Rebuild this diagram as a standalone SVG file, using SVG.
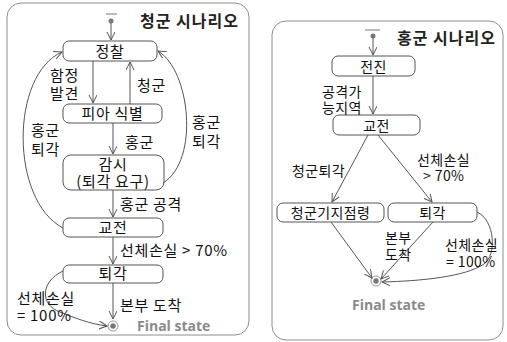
<svg xmlns="http://www.w3.org/2000/svg" width="507" height="342" viewBox="0 0 507 342">
<style>
.panel{fill:#fff;stroke:#8c8c8c;stroke-width:1}
.box{fill:#fff;stroke:#555;stroke-width:1}
.t{font-family:"Noto Sans CJK KR","Liberation Sans",sans-serif;font-size:15px;letter-spacing:0.7px;fill:#111}
.r{font-family:"Noto Sans CJK KR","Liberation Sans",sans-serif;font-size:14px;letter-spacing:0.4px;fill:#111}
.c{text-anchor:middle}
.title{font-family:"Noto Sans CJK KR","Liberation Sans",sans-serif;font-size:16px;letter-spacing:1px;font-weight:bold;fill:#222}
.fs{font-family:"Open Sans","Liberation Sans",sans-serif;font-size:14px;font-weight:bold;fill:#8a8a8a}
.e{fill:none;stroke:#555;stroke-width:1;marker-end:url(#ah)}
.dot{fill:#777}
</style>
<defs>
<marker id="ah" markerWidth="9" markerHeight="9" refX="8" refY="4" orient="auto" markerUnits="userSpaceOnUse">
<path d="M0,0 L8,4 L0,8" fill="none" stroke="#555" stroke-width="1"/>
</marker>
</defs>
<rect class="panel" x="7" y="3" width="242" height="332" rx="14"/>
<rect class="panel" x="272" y="21" width="231" height="319" rx="14"/>
<text class="title" x="140" y="27">청군 시나리오</text>
<text class="title" x="397" y="44">홍군 시나리오</text>
<g id="left-start"><line x1="106" y1="14" x2="117" y2="14" stroke="#777"/><circle class="dot" cx="111" cy="21" r="2.5"/></g>
<g id="n-jeongchal"><rect class="box" x="63" y="41" width="94" height="20" rx="6"/><text class="t c" x="110" y="57">정찰</text></g>
<g id="n-pia"><rect class="box" x="63" y="104" width="99" height="19" rx="6"/><text class="t c" x="112.5" y="119">피아 식별</text></g>
<g id="n-gamsi"><rect class="box" x="63" y="155" width="101" height="35" rx="8"/><text class="t c" x="113" y="170">감시<tspan x="113" dy="17">(퇴각 요구)</tspan></text></g>
<g id="n-gyojeon-l"><rect class="box" x="63" y="218" width="100" height="19" rx="6"/><text class="t c" x="113" y="233">교전</text></g>
<g id="n-toegak-l"><rect class="box" x="63" y="265" width="100" height="18" rx="6"/><text class="t c" x="113" y="279">퇴각</text></g>
<g id="left-final"><circle cx="113" cy="326" r="5" fill="#fff" stroke="#999"/><circle class="dot" cx="113" cy="326" r="2.7"/><text class="fs" x="137" y="331">Final state</text></g>
<g id="right-start"><line x1="365" y1="30" x2="380" y2="30" stroke="#777"/><circle class="dot" cx="373" cy="36" r="2.5"/></g>
<g id="n-jeonjin"><rect class="box" x="332" y="56" width="83" height="20" rx="6"/><text class="r c" x="373.5" y="72">전진</text></g>
<g id="n-gyojeon-r"><rect class="box" x="333" y="115" width="87" height="20" rx="6"/><text class="r c" x="376.5" y="131">교전</text></g>
<g id="n-gijijeom"><rect class="box" x="277" y="203" width="107" height="19" rx="6"/><text class="r c" x="330.5" y="218">청군기지점령</text></g>
<g id="n-toegak-r"><rect class="box" x="388" y="203" width="89" height="19" rx="6"/><text class="r c" x="432.5" y="218">퇴각</text></g>
<g id="right-final"><circle cx="376" cy="281" r="5" fill="#fff" stroke="#999"/><circle class="dot" cx="376" cy="281" r="2.7"/><text class="fs" x="352" y="310">Final state</text></g>
<g id="connectors">
<path class="e" d="M111,23 V40"/>
<path class="e" d="M93,61 V103"/>
<path class="e" d="M130,104 V62"/>
<path class="e" d="M113,123 V154"/>
<path class="e" d="M113,190 V217"/>
<path class="e" d="M113,237 V264"/>
<path class="e" d="M113,283 V319"/>
<path class="e" d="M63,228 C10,200 10,75 62,52"/>
<path class="e" d="M163,183 C200,160 190,70 158,51"/>
<path class="e" d="M63,271 C40,282 40,305 60,312 C75,318 90,324 107,326"/>
<path class="e" d="M373,38 V55"/>
<path class="e" d="M373,76 V114"/>
<path class="e" d="M368,135 L332,202"/>
<path class="e" d="M378,135 L432,202"/>
<path class="e" d="M331,222 L372,278"/>
<path class="e" d="M433,222 L381,279"/>
<path class="e" d="M477,212 C495,220 497,255 484,264 C465,277 420,281 382,282"/>
</g>
<g id="labels">
<text class="t" x="50" y="81">함정<tspan x="50" dy="18">발견</tspan></text>
<text class="t" x="137" y="91">청군</text>
<text class="t" x="125" y="148">홍군</text>
<text class="t" x="31" y="136">홍군<tspan x="31" dy="19">퇴각</tspan></text>
<text class="t" x="192" y="128">홍군<tspan x="192" dy="19">퇴각</tspan></text>
<text class="t" x="120" y="210">홍군 공격</text>
<text class="t" x="120" y="256">선체손실 &gt; 70%</text>
<text class="t" x="120" y="311">본부 도착</text>
<text class="t" x="17" y="304">선체손실<tspan x="17" dy="17">= 100%</tspan></text>
<text class="r" x="322" y="97">공격가<tspan x="322" dy="16">능지역</tspan></text>
<text class="r" x="292" y="176">청군퇴각</text>
<text class="r" x="417" y="165">선체손실<tspan x="423" dy="16">&gt; 70%</tspan></text>
<text class="r" x="385" y="243">본부<tspan x="385" dy="17">도착</tspan></text>
<text class="r" x="445" y="250">선체손실<tspan x="446" dy="17">= 100%</tspan></text>
</g>
</svg>
